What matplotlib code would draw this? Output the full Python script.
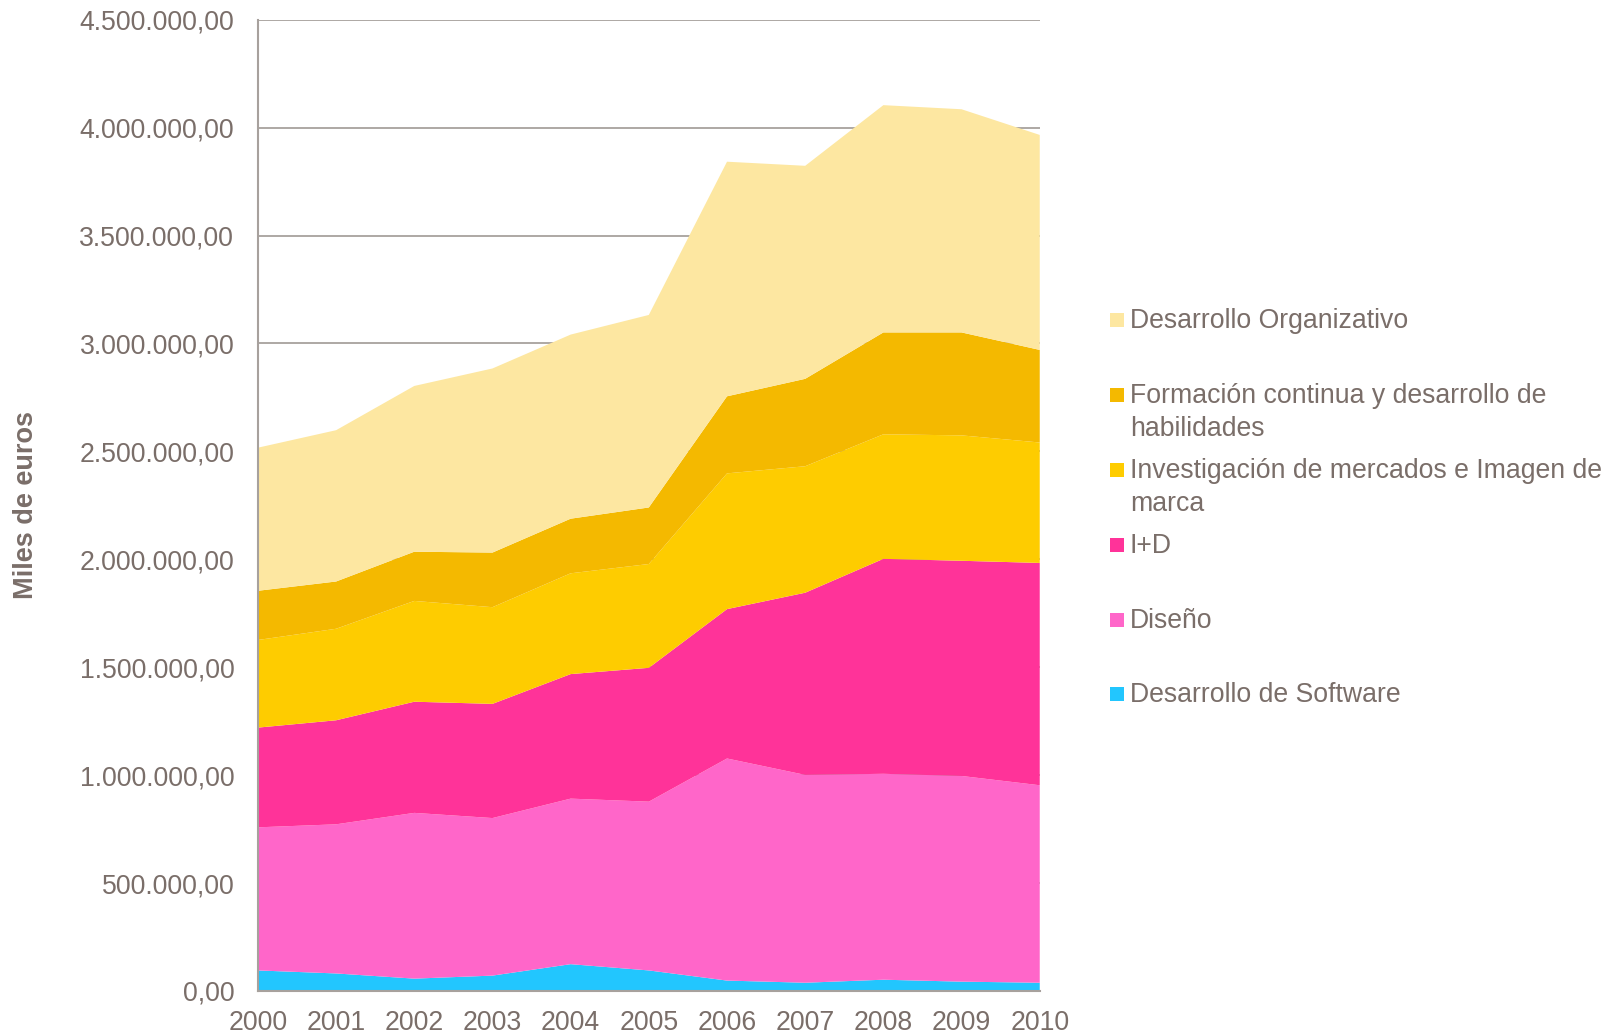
import matplotlib
matplotlib.use("Agg")
import matplotlib.pyplot as plt
from matplotlib.patches import Rectangle
from matplotlib.ticker import FuncFormatter

# Datos (miles de euros)
years = [2000, 2001, 2002, 2003, 2004, 2005, 2006, 2007, 2008, 2009, 2010]
software = [95000, 81000, 57000, 71000, 124000, 95000, 48000, 38000, 52000, 43000, 38000]
diseno = [663000, 691000, 768000, 730000, 767000, 782000, 1029000, 963000, 954000, 953000, 915000]
id_ = [462000, 482000, 515000, 529000, 577000, 620000, 692000, 844000, 996000, 997000, 1030000]
investigacion = [406000, 424000, 467000, 448000, 467000, 481000, 629000, 586000, 577000, 581000, 558000]
formacion = [228000, 219000, 228000, 253000, 253000, 262000, 357000, 405000, 472000, 477000, 429000]
organizativo = [663000, 701000, 768000, 853000, 853000, 892000, 1087000, 987000, 1053000, 1034000, 996000]

series = [software, diseno, id_, investigacion, formacion, organizativo]
labels = [
    "Desarrollo de Software",
    "Diseño",
    "I+D",
    "Investigación de mercados e Imagen de\nmarca",
    "Formación continua y desarrollo de\nhabilidades",
    "Desarrollo Organizativo",
]
colors = ["#22C6FE", "#FF66C9", "#FF3399", "#FECC00", "#F4B900", "#FDE7A1"]

TXT = "#7A6E69"
GRID = "#A7A19D"

plt.rcParams["font.family"] = ["Liberation Sans", "DejaVu Sans"]

fig = plt.figure(figsize=(16.12, 10.36), dpi=100)
ax = fig.add_axes([0.160, 0.0435, 0.485, 0.9375])

ax.stackplot(years, *series, colors=colors, linewidth=0, zorder=2)

ax.set_xlim(2000, 2010)
ax.set_ylim(0, 4500000)
ax.set_xticks(years)
ax.set_yticks(range(0, 4500001, 500000))
ax.yaxis.set_major_formatter(
    FuncFormatter(lambda v, p: f"{v:,.2f}".replace(",", "X").replace(".", ",").replace("X", "."))
)
ax.grid(axis="y", color=GRID, linewidth=1.3, zorder=1)
ax.set_axisbelow(True)
ax.tick_params(axis="both", length=0, labelsize=19.2, labelcolor=TXT)
ax.tick_params(axis="y", pad=17)
ax.tick_params(axis="x", pad=14)
for s in ["top", "right"]:
    ax.spines[s].set_visible(False)
for s in ["left", "bottom"]:
    ax.spines[s].set_color(GRID)
    ax.spines[s].set_linewidth(1.5)

fig.text(0.016, 0.513, "Miles de euros", rotation=90, ha="center", va="center",
         fontsize=19.5, fontweight="bold", color=TXT)

# Leyenda manual (orden inverso, primera línea alineada con el marcador)
leg_y = [320, 395, 470, 545, 620, 694]
for lab, col, yc in zip(labels[::-1], colors[::-1], leg_y):
    yf = 1 - yc / 1036
    fig.patches.append(Rectangle((1110 / 1612, yf - 7 / 1036), 14 / 1612, 14 / 1036,
                                 transform=fig.transFigure, color=col, linewidth=0))
    fig.text(1130 / 1612, yf + 12 / 1036, lab, ha="left", va="top", fontsize=19.2,
             color=TXT, linespacing=1.35)

fig.savefig("out.png", dpi=100)
